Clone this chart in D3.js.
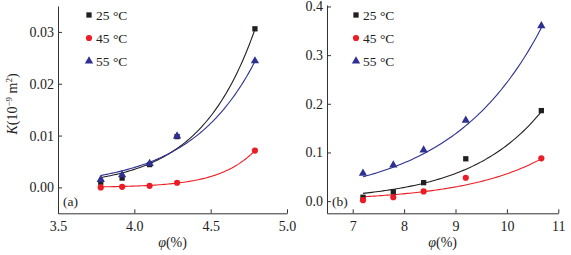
<!DOCTYPE html>
<html>
<head>
<meta charset="utf-8">
<script src="https://cdn.jsdelivr.net/npm/d3@7"></script>
<style>
body { margin: 0; background: #fff; }
text { font-family: "Liberation Serif", "Times New Roman", serif; fill: #222; }
</style>
</head>
<body>
<script>
var series = ["25 \u00b0C", "45 \u00b0C", "55 \u00b0C"];
var colors = ["#231f20", "#ed1c24", "#2e3192"];
var shapes = [d3.symbolSquare, d3.symbolCircle, d3.symbolTriangle];
var sizes = [28, 30, 30];

// panel (a)
var phiA = [3.78, 3.92, 4.10, 4.28, 4.79];
var kA25 = [0.0010, 0.0018, 0.0044, 0.0098, 0.0306];
var kA45 = [0.0000, 0.0001, 0.0003, 0.0009, 0.0071];
var kA55 = [0.0015, 0.0024, 0.0046, 0.0099, 0.0244];
// fitted curves: [x1, y1, x2, y2] exponential through these ends
var fitA = [[3.78, 0.0019, 4.79, 0.0305], [3.78, 0.0001, 4.79, 0.0071], [3.78, 0.0023, 4.79, 0.0243]];
var xTicksA = [3.5, 4.0, 4.5, 5.0];
var yTicksA = [0.00, 0.01, 0.02, 0.03];

// panel (b)
var phiB = [7.20, 7.79, 8.38, 9.20, 10.67];
var kB25 = [0.008, 0.019, 0.038, 0.087, 0.186];
var kB45 = [0.002, 0.008, 0.020, 0.048, 0.088];
var kB55 = [0.057, 0.074, 0.105, 0.166, 0.360];
var fitB = [[7.2, 0.016, 10.67, 0.184], [7.2, 0.009, 10.67, 0.087], [7.2, 0.050, 10.67, 0.356]];
var xTicksB = [7, 8, 9, 10, 11];
var yTicksB = [0.0, 0.1, 0.2, 0.3, 0.4];

var width = 571, height = 255;

const svg = d3.select("body")
    .append("svg")
    .attr("width", width)
    .attr("height", height);

function drawPanel(opt) {
    var x = d3.scaleLinear(opt.xDomain, opt.xRange);
    var y = d3.scaleLinear(opt.yDomain, opt.yRange);
    var g = svg.append("g");

    g.append("g")
        .attr("transform", "translate(0," + opt.yRange[0] + ")")
        .call(d3.axisBottom(x).tickValues(opt.xTicks).tickFormat(opt.xFmt)
            .tickSizeInner(-4).tickSizeOuter(0).tickPadding(8));
    g.append("g")
        .attr("transform", "translate(" + opt.xRange[0] + ",0)")
        .call(d3.axisLeft(y).tickValues(opt.yTicks).tickFormat(opt.yFmt)
            .tickSizeInner(-4).tickSizeOuter(0).tickPadding(4));
    g.selectAll(".domain, .tick line").attr("stroke", "#333").attr("stroke-width", 1);
    g.selectAll(".tick text")
        .style("font-family", "'Liberation Serif', serif")
        .style("font-size", "14px")
        .attr("fill", "#333");

    var line = d3.line().x(d => x(d[0])).y(d => y(d[1]));
    opt.fits.forEach(function(f, i) {
        var b = Math.log(f[3] / f[1]) / (f[2] - f[0]);
        var pts = d3.range(0, 81).map(t => {
            var xv = f[0] + (f[2] - f[0]) * t / 80;
            return [xv, f[1] * Math.exp(b * (xv - f[0]))];
        });
        g.append("path")
            .attr("d", line(pts))
            .attr("fill", "none")
            .attr("stroke", colors[i])
            .attr("stroke-width", 1.1);
    });

    opt.values.forEach(function(vals, i) {
        g.append("g").selectAll("path")
            .data(vals)
            .join("path")
            .attr("transform", (d, j) => "translate(" + x(opt.xs[j]) + "," + y(d) + ")")
            .attr("d", d3.symbol(shapes[i], sizes[i]))
            .attr("fill", colors[i]);
    });

    // legend
    var leg = g.append("g");
    series.forEach(function(s, i) {
        var ly = 15 + i * 23;
        leg.append("path")
            .attr("transform", "translate(" + opt.legX + "," + ly + ")")
            .attr("d", d3.symbol(shapes[i], sizes[i]))
            .attr("fill", colors[i]);
        leg.append("text")
            .attr("x", opt.legX + 7)
            .attr("y", ly + 4.5)
            .style("font-size", "13.5px")
            .text(s);
    });

    g.append("text")
        .attr("x", opt.xRange[0] + 5)
        .attr("y", 206)
        .style("font-size", "13.5px")
        .text(opt.tag);

    var xt = g.append("text")
        .attr("x", (opt.xRange[0] + opt.xRange[1]) / 2)
        .attr("y", 247)
        .attr("text-anchor", "middle")
        .style("font-size", "14px");
    xt.append("tspan").style("font-style", "italic").text("\u03c6");
    xt.append("tspan").text("(%)");
}

drawPanel({
    xDomain: [3.5, 5.0], xRange: [58, 287],
    yDomain: [-0.005, 0.035], yRange: [213.3, 6],
    xTicks: xTicksA, yTicks: yTicksA,
    xFmt: d3.format(".1f"), yFmt: d3.format(".2f"),
    xs: phiA, values: [kA25, kA45, kA55], fits: fitA,
    legX: 89, tag: "(a)"
});

drawPanel({
    xDomain: [6.5, 11], xRange: [327, 558.3],
    yDomain: [-0.025, 0.403], yRange: [213.3, 5],
    xTicks: xTicksB, yTicks: yTicksB,
    xFmt: d3.format("d"), yFmt: d3.format(".1f"),
    xs: phiB, values: [kB25, kB45, kB55], fits: fitB,
    legX: 356, tag: "(b)"
});

// y axis title of panel (a)
var yt = svg.append("text")
    .attr("transform", "translate(17,104) rotate(-90)")
    .attr("text-anchor", "middle")
    .style("font-size", "14px");
yt.append("tspan").style("font-style", "italic").text("K");
yt.append("tspan").text("(10");
yt.append("tspan").attr("dy", -5).style("font-size", "9px").text("\u22129");
yt.append("tspan").attr("dy", 5).text(" m");
yt.append("tspan").attr("dy", -5).style("font-size", "9px").text("2");
yt.append("tspan").attr("dy", 5).text(")");
</script>
</body>
</html>
